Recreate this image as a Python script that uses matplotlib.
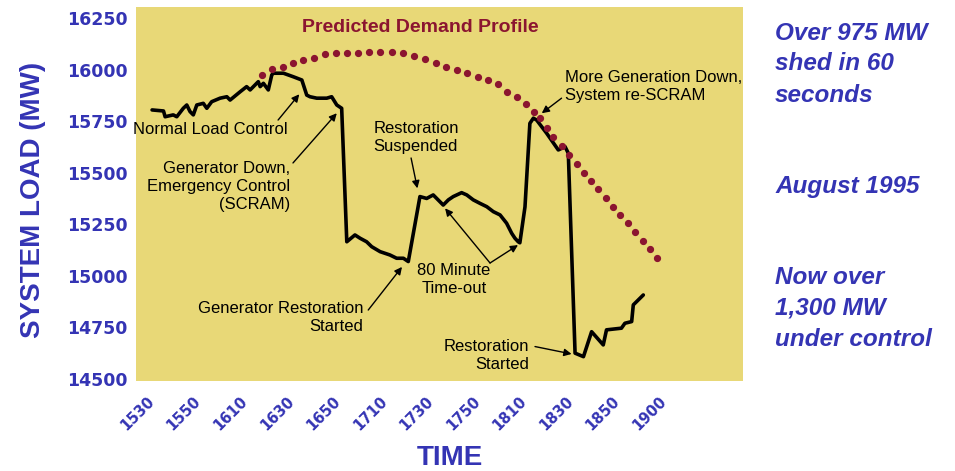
import matplotlib
matplotlib.use("Agg")
import matplotlib.pyplot as plt
from matplotlib.transforms import ScaledTranslation

# ---------------- data ----------------
# x: chart time position (20 units per tick interval, tick 0 = 15:30)
time_pos = [0, 4.9, 5.6, 9.1, 10.6, 13.4, 14.9, 16.3, 17.7, 19.2, 22.0, 23.5, 25.6,
            29.2, 32.1, 33.5, 37.8, 40.6, 42.1, 45.6, 46.4, 47.8, 49.9, 51.4, 52.1,
            56.4, 60.6, 64.3, 66.4, 67.8, 70.7, 75.0, 77.1, 79.3, 81.4, 83.6, 87.1,
            89.3, 92.1, 94.3, 97.9, 102.1, 105.0, 107.9, 110.0, 115.0, 117.9, 120.7,
            125.0, 127.2, 129.3, 132.9, 135.1, 137.9, 140.8, 143.7, 146.5, 149.4,
            152.2, 154.4, 155.8, 157.2, 157.9, 160.1, 162.2, 163.7, 165.1, 169.4,
            174.4, 177.3, 178.7, 181.6, 185.2, 188.7, 193.7, 195.1, 201.5, 203.0,
            205.9, 206.6, 210.9]
load_mw = [15804, 15799, 15771, 15780, 15771, 15812, 15828, 15796, 15780, 15828, 15836,
           15812, 15844, 15861, 15868, 15852, 15892, 15917, 15901, 15941, 15917, 15933,
           15901, 15974, 15982, 15982, 15965, 15949, 15876, 15868, 15861, 15861, 15868,
           15828, 15812, 15165, 15198, 15182, 15165, 15141, 15117, 15101, 15085, 15085,
           15069, 15384, 15375, 15392, 15343, 15368, 15384, 15403, 15392, 15368, 15351,
           15335, 15311, 15295, 15255, 15206, 15182, 15165, 15160, 15334, 15739, 15764,
           15755, 15691, 15610, 15626, 15594, 14625, 14608, 14729, 14665, 14738, 14746,
           14770, 14778, 14859, 14907]

demand_time = [47.1, 51.4, 56.1, 60.4, 64.9, 69.5, 74.3, 79.0, 83.7, 88.4, 93.1, 97.9,
               102.9, 107.6, 112.5, 117.2, 121.9, 126.4, 130.8, 135.3, 140.0, 144.3,
               148.6, 152.2, 156.5, 160.4, 163.9, 166.5, 169.4, 172.2, 175.8, 179.1,
               182.3, 185.4, 188.5, 191.5, 194.8, 198.0, 201.1, 204.4, 207.5, 210.6,
               213.6, 216.9]
demand_mw = [15974, 16001, 16010, 16033, 16046, 16057, 16074, 16081, 16081, 16081, 16083,
             16085, 16086, 16078, 16067, 16049, 16030, 16011, 15996, 15981, 15965, 15951,
             15930, 15893, 15865, 15831, 15796, 15764, 15715, 15674, 15629, 15586, 15542,
             15500, 15460, 15419, 15379, 15335, 15295, 15255, 15213, 15169, 15129, 15085]

x_tick_pos = [0, 20, 40, 60, 80, 100, 120, 140, 160, 180, 200, 220]
x_tick_labels = ["1530", "1550", "1610", "1630", "1650", "1710", "1730", "1750",
                 "1810", "1830", "1850", "1900"]
y_ticks = [14500, 14750, 15000, 15250, 15500, 15750, 16000, 16250]

# ---------------- styling ----------------
BLUE = "#3434B4"
RED = "#8B1530"
BG = "#E8D877"
SANS = ["Liberation Sans", "DejaVu Sans"]

fig = plt.figure(figsize=(9.55, 4.71), dpi=100)
ax = fig.add_axes([136 / 955, 1 - 381 / 471, (743 - 136) / 955, (381 - 7) / 471])
ax.set_facecolor(BG)
for s in ax.spines.values():
    s.set_visible(False)

ax.plot(time_pos, load_mw, color="black", lw=2.6, solid_joinstyle="round",
        solid_capstyle="round", zorder=3)
ax.plot(demand_time, demand_mw, linestyle="none", marker="o", markersize=4.2,
        color=RED, zorder=4)

ax.set_xlim(-6.9, 253.7)
ax.set_ylim(14490, 16303)

ax.set_xticks(x_tick_pos)
ax.set_xticklabels(x_tick_labels, rotation=45, ha="right", rotation_mode="default",
                   fontsize=10.5, fontweight="bold", color=BLUE, family="DejaVu Sans")
ax.set_yticks(y_ticks)
ax.set_yticklabels([str(v) for v in y_ticks], fontsize=12.5, fontweight="bold",
                   color=BLUE, family="DejaVu Sans")
ax.tick_params(axis="both", length=0)
ax.tick_params(axis="y", pad=6)
ax.tick_params(axis="x", pad=9)
shift = ScaledTranslation(5 / 100, 0, fig.dpi_scale_trans)
for lab in ax.get_xticklabels():
    lab.set_transform(lab.get_transform() + shift)

# title inside the plot
ax.text(64.3, 16206, "Predicted Demand Profile", color=RED, fontsize=14,
        fontweight="bold", family=SANS, ha="left", va="center")

# annotations
tkw = dict(fontsize=12, family=SANS, color="black", linespacing=1.25)
akw = dict(arrowstyle="-|>", color="black", lw=1.0, mutation_scale=11,
           shrinkA=0, shrinkB=0)

ax.text(24.9, 15707, "Normal Load Control", ha="center", va="center", **tkw)
ax.annotate("", xy=(63.2, 15880), xytext=(54.1, 15755), arrowprops=akw)

ax.text(59.2, 15435, "Generator Down,\nEmergency Control\n(SCRAM)", ha="right",
        va="center", multialignment="right", **tkw)
ax.annotate("", xy=(79.3, 15788), xytext=(60.5, 15547), arrowprops=akw)

ax.text(113.3, 15668, "Restoration\nSuspended", ha="center", va="center",
        multialignment="left", **tkw)
ax.annotate("", xy=(113.9, 15424), xytext=(111.2, 15571), arrowprops=akw)

ax.text(129.6, 14980, "80 Minute\nTime-out", ha="center", va="center",
        multialignment="center", **tkw)
ax.annotate("", xy=(125.8, 15327), xytext=(145.1, 15062), arrowprops=akw)
ax.annotate("", xy=(157.1, 15149), xytext=(145.1, 15062), arrowprops=akw)

ax.text(90.7, 14800, "Generator Restoration\nStarted", ha="right", va="center",
        multialignment="right", **tkw)
ax.annotate("", xy=(107.3, 15043), xytext=(92.8, 14834), arrowprops=akw)

ax.text(161.8, 14616, "Restoration\nStarted", ha="right", va="center",
        multialignment="right", **tkw)
ax.annotate("", xy=(180.1, 14621), xytext=(164.4, 14657), arrowprops=akw)

ax.text(177.3, 15917, "More Generation Down,\nSystem re-SCRAM", ha="left",
        va="center", multialignment="left", **tkw)
ax.annotate("", xy=(167.3, 15788), xytext=(175.8, 15861), arrowprops=akw)

# axis labels
fig.text(33 / 955, 1 - 200 / 471, "SYSTEM LOAD (MW)", rotation=90, ha="center",
         va="center", fontsize=20, fontweight="bold", color=BLUE, family=SANS)
fig.text(450 / 955, 1 - 458 / 471, "TIME", ha="center", va="center", fontsize=20,
         fontweight="bold", color=BLUE, family=SANS)

# side notes
side_lines = [("Over 975 MW", 33), ("shed in 60", 64), ("seconds", 95),
              ("August 1995", 187),
              ("Now over", 278), ("1,300 MW", 308), ("under control", 340)]
for txt, py in side_lines:
    fig.text(775 / 955, 1 - py / 471, txt, ha="left", va="center", fontsize=17.5,
             fontweight="bold", fontstyle="italic", color=BLUE, family=SANS)

fig.savefig("out.png", dpi=100, facecolor="white")
